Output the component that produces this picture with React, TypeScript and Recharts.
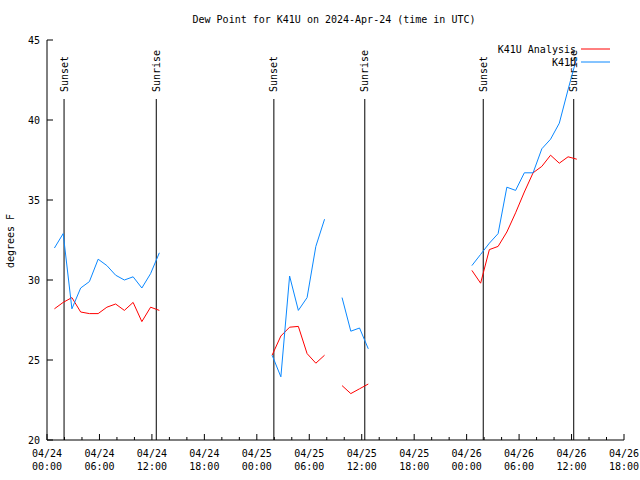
import React from "react";
import { LineChart, Line, XAxis, YAxis, ReferenceLine } from "recharts";

// hours since 2024-04-24 00:00 UTC; null rows break the lines at data gaps
const hours = [
  0.85, 1.85, 2.85, 3.85, 4.85, 5.85, 6.85, 7.85, 8.85, 9.85, 10.85, 11.85, 12.85,
  19,
  25.75, 26.75, 27.75, 28.75, 29.75, 30.75, 31.75,
  32.75,
  33.75, 34.75, 35.75, 36.75,
  42,
  48.6, 49.6, 50.6, 51.6, 52.6, 53.6, 54.6, 55.6, 56.6, 57.6, 58.6, 59.6, 60.6,
];
const analysisF = [
  28.2, 28.6, 28.9, 28.0, 27.9, 27.9, 28.3, 28.5, 28.1, 28.6, 27.4, 28.3, 28.1,
  null,
  25.3, 26.5, 27.05, 27.1, 25.4, 24.8, 25.3,
  null,
  23.4, 22.9, 23.2, 23.5,
  null,
  30.6, 29.8, 31.9, 32.1, 33.0, 34.2, 35.5, 36.7, 37.1, 37.8, 37.3, 37.7, 37.55,
];
const observedF = [
  32.0, 32.9, 28.2, 29.5, 29.9, 31.3, 30.9, 30.3, 30.0, 30.2, 29.5, 30.4, 31.7,
  null,
  25.3, 23.95, 30.25, 28.1, 28.9, 32.1, 33.8,
  null,
  28.9, 26.8, 27.0, 25.7,
  null,
  30.9, 31.6, 32.3, 32.9, 35.8, 35.6, 36.7, 36.7, 38.2, 38.8, 39.8, 41.9, 43.9,
];
const sunsetHours = [1.95, 25.95, 49.9];
const sunriseHours = [12.5, 36.35, 60.25];

const xTicks = [
  0, 2, 4, 6, 8, 10, 12, 14, 16, 18, 20, 22, 24, 26, 28, 30, 32, 34,
  36, 38, 40, 42, 44, 46, 48, 50, 52, 54, 56, 58, 60, 62, 64, 66,
];
const yTicks = [20, 25, 30, 35, 40, 45];
const dateLabels = ["04/24", "04/24", "04/24", "04/24", "04/25", "04/25", "04/25", "04/25", "04/26", "04/26", "04/26", "04/26"];
const timeLabels = ["00:00", "06:00", "12:00", "18:00", "00:00", "06:00", "12:00", "18:00", "00:00", "06:00", "12:00", "18:00"];

const data = hours.map((h, i) => ({ h, analysis: analysisF[i], observed: observedF[i] }));

const FONT = "'DejaVu Sans Mono', monospace";
const RED = "#ff0000";
const BLUE = "#0a88ff";

const BottomTick = ({ x, y, payload }: any) => {
  const h = payload.value;
  const major = h % 6 === 0;
  const i = h / 6;
  return (
    <g>
      <line x1={x} x2={x} y1={y} y2={y - (major ? 6 : 3)} stroke="#000" />
      {major && (
        <g fontFamily={FONT} fontSize={10} fill="#000" textAnchor="middle">
          <text x={x} y={y + 13} dominantBaseline="central">{dateLabels[i]}</text>
          <text x={x} y={y + 26} dominantBaseline="central">{timeLabels[i]}</text>
        </g>
      )}
    </g>
  );
};

const TopTick = ({ x, y, payload }: any) => {
  const major = payload.value % 6 === 0;
  return <line x1={x} x2={x} y1={y} y2={y + (major ? 6 : 3)} stroke="#000" />;
};

const LeftTick = ({ x, y, payload }: any) => (
  <g>
    <line x1={x} x2={x + 6} y1={y} y2={y} stroke="#000" />
    <text x={x - 7} y={y} textAnchor="end" dominantBaseline="central" fontFamily={FONT} fontSize={10} fill="#000">
      {payload.value}
    </text>
  </g>
);

const RightTick = ({ x, y }: any) => <line x1={x} x2={x - 6} y1={y} y2={y} stroke="#000" />;

const sunShape = (label: string) => (p: any) => {
  const x = p.x1;
  const top = Math.min(p.y1, p.y2);
  const bottom = Math.max(p.y1, p.y2);
  const ty = top + 52;
  return (
    <g>
      <line x1={x} x2={x} y1={top + 59} y2={bottom} stroke="#000" />
      <text
        x={x}
        y={ty}
        transform={`rotate(-90 ${x} ${ty})`}
        textAnchor="start"
        dominantBaseline="central"
        fontFamily={FONT}
        fontSize={10}
        fill="#000"
      >
        {label}
      </text>
    </g>
  );
};

export default function App() {
  return (
    <div style={{ position: "absolute", left: 0, top: 0, width: 640, height: 480, background: "#fff" }}>
      <LineChart width={640} height={480} data={data} margin={{ top: 40, right: 16, bottom: 0, left: 0 }}>
        <XAxis
          dataKey="h"
          type="number"
          domain={[0, 66]}
          ticks={xTicks}
          interval={0}
          height={40}
          tickSize={0}
          tickMargin={0}
          tick={<BottomTick />}
          axisLine={{ stroke: "#000" }}
          allowDataOverflow
        />
        <XAxis
          xAxisId="top"
          orientation="top"
          dataKey="h"
          type="number"
          domain={[0, 66]}
          ticks={xTicks}
          interval={0}
          height={0}
          tickSize={0}
          tickMargin={0}
          tick={<TopTick />}
          axisLine={{ stroke: "#000" }}
        />
        <YAxis
          type="number"
          domain={[20, 45]}
          ticks={yTicks}
          interval={0}
          width={47}
          tickSize={0}
          tickMargin={0}
          tick={<LeftTick />}
          axisLine={{ stroke: "#000" }}
          allowDataOverflow
        />
        <YAxis
          yAxisId="right"
          orientation="right"
          type="number"
          domain={[20, 45]}
          ticks={yTicks}
          interval={0}
          width={0}
          tickSize={0}
          tickMargin={0}
          tick={<RightTick />}
          axisLine={{ stroke: "#000" }}
        />
        {sunsetHours.map((t) => (
          <ReferenceLine key={`ss${t}`} x={t} stroke="#000" shape={sunShape("Sunset")} />
        ))}
        {sunriseHours.map((t) => (
          <ReferenceLine key={`sr${t}`} x={t} stroke="#000" shape={sunShape("Sunrise")} />
        ))}
        <Line type="linear" dataKey="analysis" stroke={RED} strokeWidth={1} dot={false} isAnimationActive={false} />
        <Line type="linear" dataKey="observed" stroke={BLUE} strokeWidth={1} dot={false} isAnimationActive={false} />
      </LineChart>
      <svg
        width={640}
        height={480}
        style={{ position: "absolute", left: 0, top: 0, pointerEvents: "none" }}
        fontFamily={FONT}
        fontSize={10}
      >
        <text x={334} y={19} textAnchor="middle" dominantBaseline="central" fill="#000">
          Dew Point for K41U on 2024-Apr-24 (time in UTC)
        </text>
        <text x={10} y={241} textAnchor="middle" dominantBaseline="central" transform="rotate(-90 10 241)" fill="#000">
          degrees F
        </text>
        <text x={576} y={49} textAnchor="end" dominantBaseline="central" fill="#000">K41U Analysis</text>
        <line x1={581} x2={610} y1={49} y2={49} stroke={RED} />
        <text x={576} y={62} textAnchor="end" dominantBaseline="central" fill="#000">K41U</text>
        <line x1={581} x2={610} y1={62} y2={62} stroke={BLUE} />
      </svg>
    </div>
  );
}
